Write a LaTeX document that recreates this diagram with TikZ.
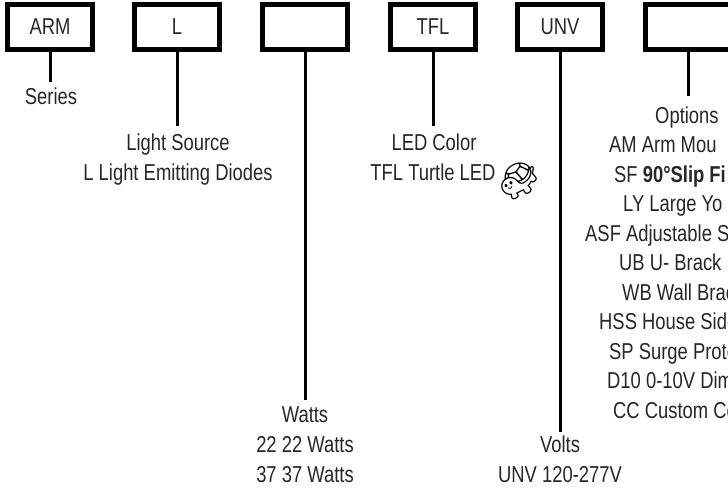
\documentclass[tikz,border=0pt]{standalone}
\usepackage{fontspec}
\setmainfont{Liberation Sans}[FakeStretch=0.8]
\newfontfamily\emojifont{Noto Emoji}
\begin{document}
\begin{tikzpicture}[x=1pt,y=-1pt,
  codebox/.style={draw=black,line width=5pt,minimum width=85pt,minimum height=45pt,inner sep=0pt,
     font=\fontsize{23}{28}\selectfont,text=black!85},
  lead/.style={line width=3pt,black},
  lbl/.style={anchor=base,inner sep=0pt,font=\fontsize{23}{28}\selectfont,text=black!85},
  lblw/.style={anchor=base west,inner sep=0pt,font=\fontsize{23}{28}\selectfont,text=black!85}]
\useasboundingbox (0,0) rectangle (728,490);
\clip (0,0) rectangle (728,490);
% code boxes
\node[codebox] (arm) at (50,27) {ARM};
\node[codebox] (src) at (177,27) {L};
\node[codebox] (wat) at (305,27) {};
\node[codebox] (col) at (433,27) {TFL};
\node[codebox] (vol) at (560,27) {UNV};
\node[codebox] (opt) at (688,27) {};
% line ends
\coordinate (armE) at (50,82);
\coordinate (srcE) at (177,126);
\coordinate (watE) at (305,400);
\coordinate (colE) at (433,126);
\coordinate (volE) at (560,432);
\coordinate (optE) at (688,96);
\draw[lead] (arm.south) -- (armE);
\draw[lead] (src.south) -- (srcE);
\draw[lead] (wat.south) -- (watE);
\draw[lead] (col.south) -- (colE);
\draw[lead] (vol.south) -- (volE);
\draw[lead] (opt.south) -- (optE);
% labels
\node[lbl] (t1) at (51,104) {Series};
\node[lbl] (t2) at (178,150) {Light Source};
\node[lbl] (t3) at (178,180) {L Light Emitting Diodes};
\node[lbl] (t4) at (434,150) {LED Color};
\node[lbl] (t5) at (433,180) {TFL Turtle LED};
\node[inner sep=0pt,font=\emojifont\fontsize{34}{34}\selectfont,rotate=30] (turtle) at (519,180) {🐢};
\node[lbl] (w1) at (305,422) {Watts};
\node[lbl] (w2) at (305,452) {22 22 Watts};
\node[lbl] (w3) at (305,482) {37 37 Watts};
\node[lbl] (v1) at (560,452) {Volts};
\node[lbl] (v2) at (560,482) {UNV 120-277V};
\node[lblw] (o0) at (655,123) {Options};
\node[lblw] (o1) at (609,152.5) {AM Arm Mou};
\node[lblw] (o2) at (614,182) {SF \textbf{90°Slip Fi}};
\node[lblw] (o3) at (623,211.5) {LY Large Yo};
\node[lblw] (o4) at (585,241) {ASF Adjustable Sl};
\node[lblw] (o5) at (619,270.5) {UB U- Brack};
\node[lblw] (o6) at (622,300) {WB Wall Brac};
\node[lblw] (o7) at (599,329.5) {HSS House Side};
\node[lblw] (o8) at (609,359) {SP Surge Prote};
\node[lblw] (o9) at (607,388.5) {D10 0-10V Dim};
\node[lblw] (o10) at (613,418) {CC Custom Co};
\end{tikzpicture}
\end{document}
